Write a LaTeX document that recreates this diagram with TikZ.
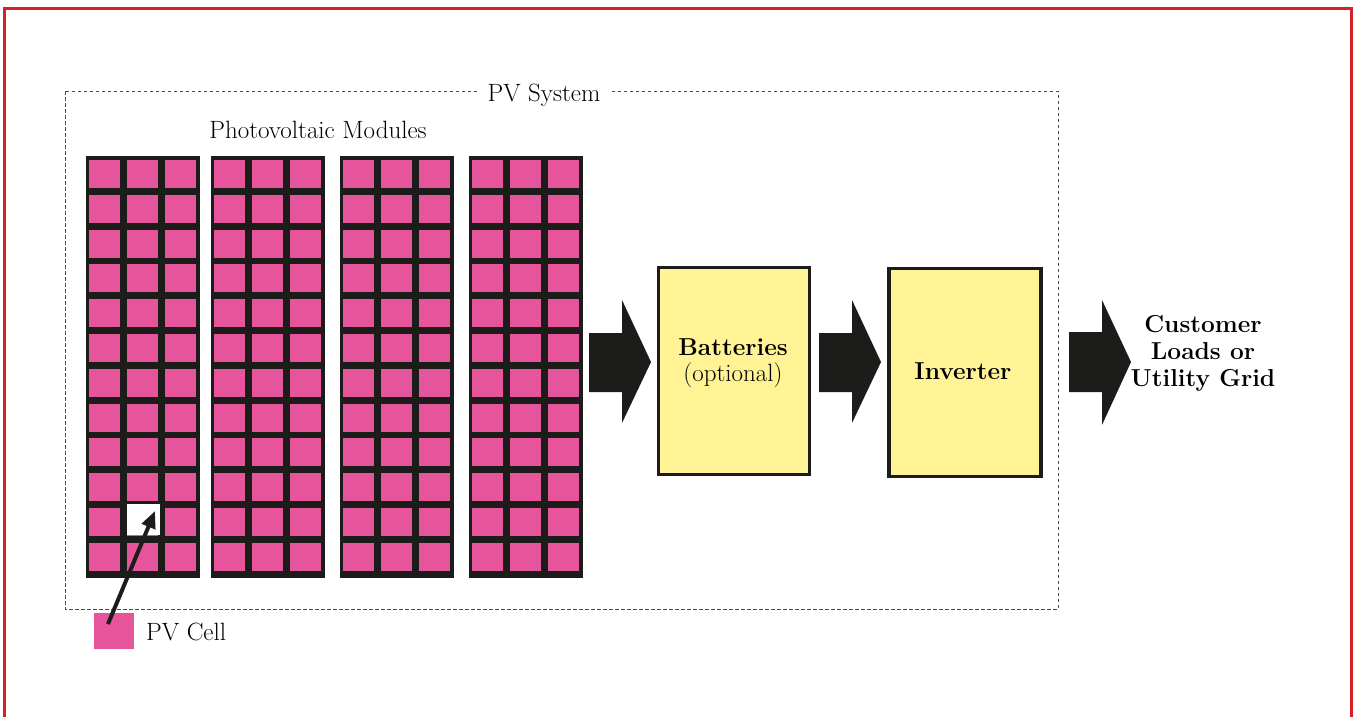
\documentclass[tikz,border=0pt]{standalone}
\usetikzlibrary{arrows.meta}
\definecolor{framered}{RGB}{212,32,38}
\definecolor{cellpink}{RGB}{230,84,155}
\definecolor{gridblack}{RGB}{28,28,26}
\definecolor{boxyellow}{RGB}{255,243,150}
\tikzset{
  lbl/.style={font=\fontsize{25}{28}\selectfont, inner sep=1pt},
  blbl/.style={font=\fontsize{24.5}{27}\selectfont\bfseries, align=center, inner sep=0pt},
  ybox/.style={draw=gridblack, line width=3.5pt, fill=boxyellow, inner sep=0pt},
  bigarrow/.style={fill=gridblack},
  pvbox/.style={draw=gridblack!80, line width=0.8pt, dash pattern=on 3.5pt off 2.5pt},
}
\begin{document}
\begin{tikzpicture}[x=1pt,y=-1pt]
\useasboundingbox (0,0) rectangle (1353,716);
\fill[white] (0,0) rectangle (1353,716);
% red frame
\draw[framered, line width=3pt] (4,720) -- (4,8) -- (1351,8) -- (1351,720);
% PV system dashed box
\draw[pvbox] (65,91) rectangle (1058,609);
\node[lbl, fill=white, inner xsep=10pt, inner ysep=3pt] (pvsys) at (544,95) {PV System};
\node[lbl] (pvmod) at (318,130) {Photovoltaic Modules};
% modules
\foreach \mx in {86,211,340,469}{
  \fill[gridblack] (\mx,156) rectangle ++(114,422);
  \foreach \c in {0,1,2}{
    \foreach \r in {0,...,11}{
      \fill[cellpink] ({\mx+3+\c*38},{160+\r*34.8}) rectangle ++(31,28);
    }
  }
}
% highlighted (white) cell
\node[fill=white, minimum width=33pt, minimum height=31pt, inner sep=0pt] (wcell) at (143.5,519.5) {};
% legend cell
\node[fill=cellpink, minimum width=40pt, minimum height=36pt, inner sep=0pt] (pvcell) at (114,631) {};
\node[lbl, anchor=west] (pvcelltxt) at (145,632) {PV Cell};
\coordinate (tail) at (108,624);
\coordinate (tip) at (155,511);
\draw[gridblack, line width=4pt, -{Triangle[length=17pt,width=14pt]}] (tail) -- (tip);
% boxes
\node[ybox, minimum width=151pt, minimum height=207pt] (bat) at (734,371) {};
\node[blbl] at (733,347) {Batteries};
\node[font=\fontsize{25}{28}\selectfont, inner sep=0pt] at (733,375) {(optional)};
\node[ybox, minimum width=152pt, minimum height=208pt] (inv) at (965,372.5) {};
\node[blbl] at (963,371) {Inverter};
\node[blbl] (cust) at (1203,353) {Customer\\Loads or\\Utility Grid};
% block arrows
\fill[bigarrow] (589,333) -- (622,333) -- (622,300) -- (651,362) -- (622,423) -- (622,392) -- (589,392) -- cycle;
\fill[bigarrow] (819,333) -- (852,333) -- (852,300) -- (881,362) -- (852,423) -- (852,392) -- (819,392) -- cycle;
\fill[bigarrow] (1069,332) -- (1102,332) -- (1102,300) -- (1131,362) -- (1102,425) -- (1102,392) -- (1069,392) -- cycle;
\end{tikzpicture}
\end{document}
